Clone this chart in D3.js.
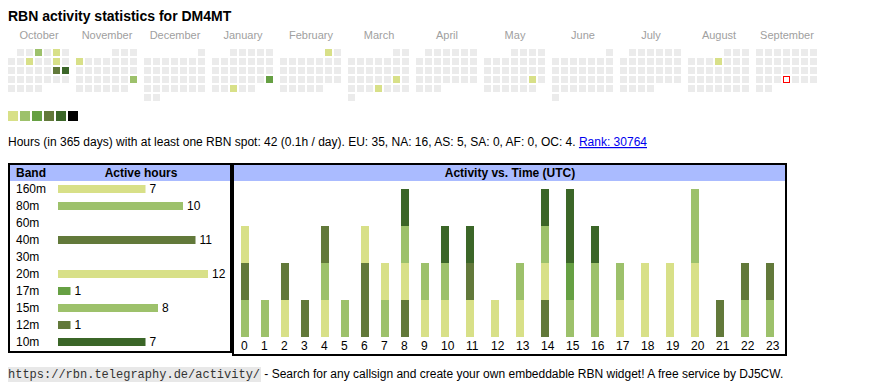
<!DOCTYPE html>
<html>
<head>
<meta charset="utf-8">
<script src="https://cdn.jsdelivr.net/npm/d3@7"></script>
<style>
body { margin: 0; background: #fff; }
text { font-family: "Liberation Sans", Arial, sans-serif; }
</style>
</head>
<body>
<div id="vis"></div>
<script>
var title = "RBN activity statistics for DM4MT";
var monthNames = ["October", "November", "December", "January", "February", "March",
                  "April", "May", "June", "July", "August", "September"];
var firstMonth = new Date(2024, 9, 1);
var today = "2025-09-25";

// day -> activity level (1..6)
var activeDays = [
  ["2024-10-03", 2], ["2024-10-05", 1], ["2024-10-09", 1], ["2024-10-12", 1],
  ["2024-10-19", 4], ["2024-10-20", 5], ["2024-11-04", 1], ["2024-11-24", 2],
  ["2025-01-26", 3], ["2025-01-29", 1], ["2025-02-01", 1], ["2025-03-22", 1],
  ["2025-03-27", 1], ["2025-05-24", 1], ["2025-08-07", 1]
];
var levelColors = ["#d8e088", "#9dc16b", "#66a043", "#62793a", "#3b6628", "#000000"];

var summary = "Hours (in 365 days) with at least one RBN spot: 42 (0.1h / day). EU: 35, NA: 16, AS: 5, SA: 0, AF: 0, OC: 4. ";
var rankText = "Rank: 30764";

var bands = ["160m", "80m", "60m", "40m", "30m", "20m", "17m", "15m", "12m", "10m"];
var bandHours = [7, 10, 0, 11, 0, 12, 1, 8, 1, 7];
var bandColors = ["#d8e088", "#9dc16b", "#66a043", "#62793a", "#3b6628",
                  "#d8e088", "#66a043", "#9dc16b", "#62793a", "#3b6628"];

var hours = d3.range(24);
// active hours per band for each UTC hour 0..23
var perHour = {
  "160m": [0,0,1,0,1,0,0,0,0,1,1,1,0,1,0,0,0,1,0,0,0,0,0,0],
  "80m":  [1,1,0,0,1,1,0,1,0,0,0,0,0,0,0,1,2,0,0,0,0,0,1,1],
  "60m":  [0,0,0,0,0,0,0,0,0,0,0,0,0,0,0,0,0,0,0,0,0,0,0,0],
  "40m":  [1,0,1,1,1,0,2,0,1,0,0,1,0,0,1,0,0,0,0,0,0,0,1,1],
  "30m":  [0,0,0,0,0,0,0,0,0,0,0,0,0,0,0,0,0,0,0,0,0,0,0,0],
  "20m":  [1,0,0,0,0,0,1,1,1,0,0,0,1,0,1,0,0,0,2,2,2,0,0,0],
  "17m":  [0,0,0,0,0,0,0,0,0,0,0,0,0,0,0,1,0,0,0,0,0,0,0,0],
  "15m":  [0,0,0,0,0,0,0,0,1,1,1,0,0,1,1,0,0,1,0,0,2,0,0,0],
  "12m":  [0,0,0,0,0,0,0,0,0,0,0,0,0,0,0,0,0,0,0,0,0,1,0,0],
  "10m":  [0,0,0,0,0,0,0,0,1,0,1,1,0,0,1,2,1,0,0,0,0,0,0,0]
};

var footerUrl = "https://rbn.telegraphy.de/activity/";
var footerText = " - Search for any callsign and create your own embeddable RBN widget! A free service by DJ5CW.";

var W = 870, H = 390;
var svg = d3.select("#vis").append("svg")
    .attr("width", W)
    .attr("height", H);

svg.append("text")
    .attr("x", 8)
    .attr("y", 21)
    .attr("font-size", "14px")
    .attr("font-weight", "bold")
    .text(title);

// ---- calendar ----
var cell = 7, step = 9;
var monthX = d3.scaleBand()
    .domain(monthNames)
    .range([8, 8 + 68 * monthNames.length]);

var levelOf = {};
activeDays.forEach(function(d) { levelOf[d[0]] = d[1]; });
var fmt = d3.timeFormat("%Y-%m-%d");

var cal = svg.append("g").attr("class", "calendar");

monthNames.forEach(function(name, i) {
  var start = d3.timeMonth.offset(firstMonth, i);
  var first = (start.getDay() + 6) % 7;
  var days = d3.timeDay.range(start, d3.timeMonth.offset(start, 1));
  var x0 = monthX(name);

  cal.append("text")
      .attr("x", x0 + 31)
      .attr("y", 39)
      .attr("text-anchor", "middle")
      .attr("font-size", "11px")
      .attr("fill", "#a0a0a0")
      .text(name);

  cal.selectAll(".m" + i)
    .data(days)
    .enter().append("rect")
      .attr("class", "m" + i)
      .attr("x", function(d) { return x0 + ((d.getDay() + 6) % 7) * step; })
      .attr("y", function(d) { return 49 + Math.floor((d.getDate() - 1 + first) / 7) * step; })
      .attr("width", cell)
      .attr("height", cell)
      .attr("fill", function(d) {
        var l = levelOf[fmt(d)];
        if (fmt(d) == today) return "#fff";
        return l ? levelColors[l - 1] : "#ebebeb";
      })
      .each(function(d) {
        if (fmt(d) == today) {
          d3.select(this)
            .attr("x", +d3.select(this).attr("x") + 0.5)
            .attr("y", +d3.select(this).attr("y") + 0.5)
            .attr("width", cell - 1)
            .attr("height", cell - 1)
            .attr("stroke", "#ff0000")
            .attr("stroke-width", 1);
        }
      });
});

// legend swatches
svg.append("g").selectAll("rect")
  .data(levelColors)
  .enter().append("rect")
    .attr("x", function(d, i) { return 8 + i * 12; })
    .attr("y", 111)
    .attr("width", 10)
    .attr("height", 10)
    .attr("fill", function(d) { return d; });

var line = svg.append("text")
    .attr("x", 8)
    .attr("y", 146)
    .attr("font-size", "12px");
line.append("tspan").text(summary);
line.append("tspan")
    .attr("fill", "#0000ee")
    .attr("text-decoration", "underline")
    .text(rankText);

// ---- band table ----
var tbl = svg.append("g");
tbl.append("rect")
    .attr("x", 9).attr("y", 164)
    .attr("width", 222).attr("height", 188)
    .attr("fill", "none").attr("stroke", "#000").attr("stroke-width", 2);
tbl.append("rect")
    .attr("x", 10).attr("y", 165)
    .attr("width", 220).attr("height", 16)
    .attr("fill", "#aabbff");
tbl.append("text")
    .attr("x", 16).attr("y", 177)
    .attr("font-size", "12px").attr("font-weight", "bold")
    .text("Band");
tbl.append("text")
    .attr("x", 141).attr("y", 177)
    .attr("text-anchor", "middle")
    .attr("font-size", "12px").attr("font-weight", "bold")
    .text("Active hours");

var rowY = d3.scalePoint().domain(bands).range([189, 342]);
var barX = d3.scaleLinear().domain([0, 12]).range([58, 208]);

var rows = tbl.selectAll(".row")
  .data(bands)
  .enter().append("g")
    .attr("class", "row")
    .attr("transform", function(d) { return "translate(0," + rowY(d) + ")"; });

rows.append("text")
    .attr("x", 16).attr("dy", "0.35em")
    .attr("font-size", "12px")
    .text(function(d) { return d; });

rows.filter(function(d, i) { return bandHours[i] > 0; })
  .each(function(d) {
    var i = bands.indexOf(d), g = d3.select(this);
    g.append("rect")
      .attr("x", barX(0)).attr("y", -4)
      .attr("width", barX(bandHours[i]) - barX(0)).attr("height", 8)
      .attr("fill", bandColors[i]);
    g.append("text")
      .attr("x", barX(bandHours[i]) + 4).attr("dy", "0.35em")
      .attr("font-size", "12px")
      .text(bandHours[i]);
  });

// ---- activity vs time ----
var act = svg.append("g");
act.append("rect")
    .attr("x", 233).attr("y", 164)
    .attr("width", 553).attr("height", 191)
    .attr("fill", "none").attr("stroke", "#000").attr("stroke-width", 2);
act.append("rect")
    .attr("x", 234).attr("y", 165)
    .attr("width", 551).attr("height", 16)
    .attr("fill", "#aabbff");
act.append("text")
    .attr("x", 510).attr("y", 177)
    .attr("text-anchor", "middle")
    .attr("font-size", "12px").attr("font-weight", "bold")
    .text("Activity vs. Time (UTC)");

// table-like columns: width depends on label length
var lefts = [], acc = 235;
hours.forEach(function(h) { lefts.push(acc); acc += 15 + 5 * String(h).length; });
var hx = d3.scaleOrdinal().domain(hours).range(lefts);
var hy = d3.scaleLinear().domain([0, 4]).range([337, 189]);

var table = hours.map(function(h) {
  var o = { hour: h };
  bands.forEach(function(b) { o[b] = perHour[b][h]; });
  return o;
});
var series = d3.stack().keys(bands)(table);

act.selectAll(".series")
  .data(series)
  .enter().append("g")
    .attr("class", "series")
    .attr("fill", function(d) { return bandColors[bands.indexOf(d.key)]; })
  .selectAll("rect")
  .data(function(d) { return d.filter(function(p) { return p[1] > p[0]; }); })
  .enter().append("rect")
    .attr("x", function(d) { return hx(d.data.hour) + 6; })
    .attr("y", function(d) { return hy(d[1]); })
    .attr("width", 8)
    .attr("height", function(d) { return hy(d[0]) - hy(d[1]); });

act.selectAll(".hl")
  .data(hours)
  .enter().append("text")
    .attr("class", "hl")
    .attr("x", function(d) { return hx(d) + 6; })
    .attr("y", 350)
    .attr("font-size", "12px")
    .text(function(d) { return d; });

// ---- footer ----
var ft = svg.append("g");
ft.append("rect")
    .attr("x", 8).attr("y", 367)
    .attr("width", 253).attr("height", 15)
    .attr("fill", "#e8e8e8");
ft.append("text")
    .attr("x", 8).attr("y", 378)
    .attr("font-size", "12px")
    .style("font-family", "'Liberation Mono', monospace")
    .attr("fill", "#333")
    .text(footerUrl);
ft.append("text")
    .attr("x", 261).attr("y", 378)
    .attr("font-size", "12px")
    .style("white-space", "pre")
    .text(footerText);
</script>
</body>
</html>
